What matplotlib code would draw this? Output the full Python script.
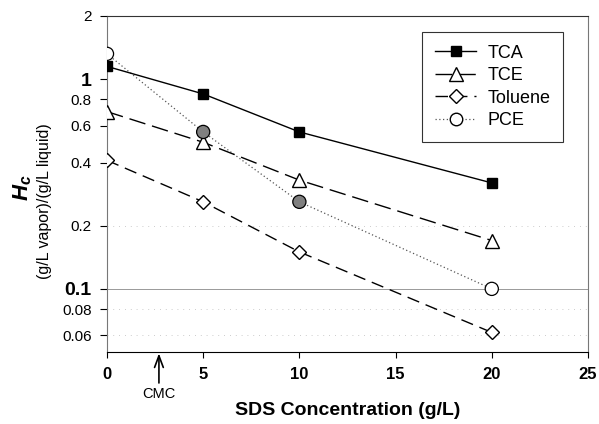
import matplotlib.pyplot as plt
from matplotlib.lines import Line2D
from matplotlib.ticker import FixedLocator, NullLocator, NullFormatter

sds = [0, 5, 10, 20]
tca = [1.15, 0.85, 0.56, 0.32]
tce = [0.70, 0.50, 0.33, 0.17]
toluene = [0.41, 0.26, 0.15, 0.062]
pce = [1.32, 0.56, 0.26, 0.10]
pce_face = ['white', 'gray', 'gray', 'white']

ytick_vals = [0.06, 0.08, 0.1, 0.2, 0.4, 0.6, 0.8, 1, 2]
ytick_labels = ['0.06', '0.08', '0.1', '0.2', '0.4', '0.6', '0.8', '1', '2']
xticks = [0, 5, 10, 15, 20, 25]
cmc = 2.7

plt.rcParams['font.family'] = ['Liberation Sans', 'DejaVu Sans']
plt.rcParams['mathtext.fontset'] = 'custom'
plt.rcParams['mathtext.bf'] = 'Liberation Sans:bold:italic'
plt.rcParams['mathtext.rm'] = 'Liberation Sans'

fig = plt.figure(figsize=(5.99, 4.24), dpi=100)
ax = fig.add_axes([0.1786, 0.1698, 0.8030, 0.7925])

# faint grid lines like the scanned original
for v in [0.06, 0.08, 0.2]:
    ax.axhline(v, color='#bbbbbb', lw=0.6, ls=(0, (1, 6)), zorder=0)
ax.axhline(0.1, color='#999999', lw=0.7, zorder=0)

ax.plot(sds, tca, color='black', lw=1, marker='s', ms=7.5, mfc='black',
        mec='black', label='TCA', zorder=3)
ax.plot(sds, tce, color='black', lw=1, ls=(0, (12, 5)), marker='^', ms=10,
        mfc='white', mec='black', label='TCE', zorder=3)
ax.plot(sds, toluene, color='black', lw=1, ls=(0, (9, 5)), marker='D', ms=7.5,
        mfc='white', mec='black', label='Toluene', zorder=3)
ax.plot(sds, pce, color='#555555', lw=0.9, ls=(0, (1, 2)), zorder=2)
ax.scatter(sds, pce, s=90, c=pce_face, edgecolors='black', linewidths=0.9, zorder=4)

ax.set_yscale('log')
ax.set_ylim(0.05, 2)
ax.set_xlim(0, 25)
ax.yaxis.set_major_locator(FixedLocator(ytick_vals))
ax.yaxis.set_minor_locator(NullLocator())
ax.yaxis.set_minor_formatter(NullFormatter())
ax.set_yticks(ytick_vals)
ax.set_yticklabels(ytick_labels)
for lbl in ax.get_yticklabels():
    if lbl.get_text() in ('1', '0.1'):
        lbl.set_fontsize(14)
        lbl.set_fontweight('bold')
    else:
        lbl.set_fontsize(11)
ax.set_xticks(xticks)
ax.set_xticklabels([str(t) for t in xticks], fontsize=12, fontweight='bold')
ax.tick_params(axis='x', length=4, pad=7)
ax.tick_params(axis='y', length=5, pad=6)

for side in ['left', 'right']:
    ax.spines[side].set_color('#777777')
ax.spines['bottom'].set_color('black')
ax.spines['top'].set_color('#333333')

ax.text(-0.175, 0.49, r'$\mathbf{H_c}$', transform=ax.transAxes, rotation=90,
        ha='center', va='center', fontsize=16)
ax.text(-0.129, 0.45, '(g/L vapor)/(g/L liquid)', transform=ax.transAxes,
        rotation=90, ha='center', va='center', fontsize=11.5)
ax.set_xlabel('SDS Concentration (g/L)', fontsize=14, fontweight='bold', labelpad=14)

ax.annotate('CMC', xy=(cmc, 0.05), xytext=(cmc, 0.034),
            ha='center', va='top', fontsize=10.5, annotation_clip=False,
            arrowprops=dict(arrowstyle='->,head_length=0.8,head_width=0.3',
                            color='black', lw=1.2, shrinkA=1, shrinkB=1))

handles, labels = ax.get_legend_handles_labels()
pce_h = Line2D([], [], color='#555555', lw=0.9, ls=(0, (1, 2)), marker='o', ms=9,
               mfc='white', mec='black')
handles = handles[:3] + [pce_h]
labels = ['TCA', 'TCE', 'Toluene', 'PCE']
leg = ax.legend(handles, labels, loc='upper right', bbox_to_anchor=(0.948, 0.952),
                borderaxespad=0, fontsize=13, frameon=True, fancybox=False,
                edgecolor='black', handlelength=2.3, borderpad=0.7,
                labelspacing=0.3, handletextpad=0.6)
leg.get_frame().set_linewidth(0.8)

fig.savefig('out.png', dpi=100)
